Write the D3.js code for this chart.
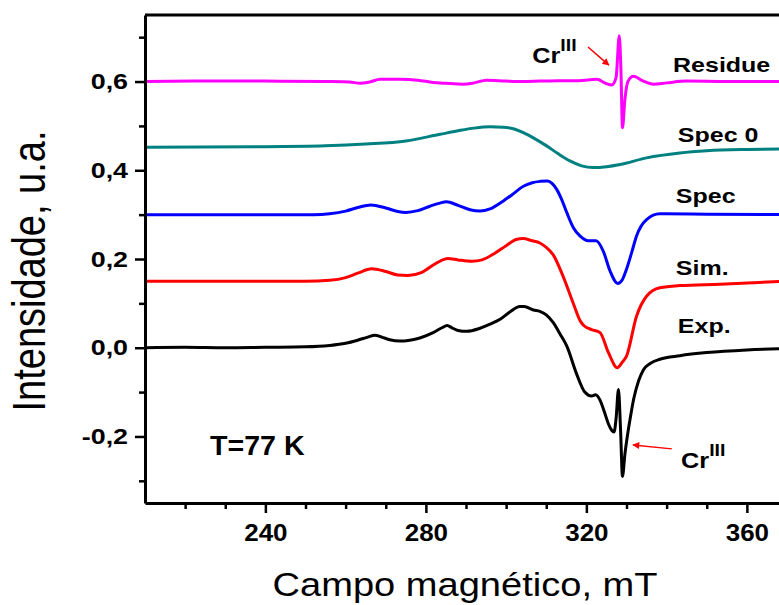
<!DOCTYPE html>
<html>
<head>
<meta charset="utf-8">
<script src="https://cdn.jsdelivr.net/npm/d3@7"></script>
<style>
  html, body { margin: 0; padding: 0; background: #ffffff; }
  svg { display: block; }
  text { font-family: "Liberation Sans", Arial, Helvetica, sans-serif; }
</style>
</head>
<body>
<svg id="chart" width="779" height="605"></svg>
<script>
// EPR spectra at 77 K: experiment, simulation, components and residue.
// Each profile is [field (mT), intensity relative to its baseline].
const expProfile = [
  [210, 0], [220, 0.001], [230, 0], [240, 0.001], [250, 0.002], [256, 0.005],
  [260, 0.010], [263, 0.017], [265.5, 0.024], [267.3, 0.028], [269, 0.024],
  [271, 0.018], [273.5, 0.015], [276, 0.017], [278.5, 0.022], [281.8, 0.034],
  [284, 0.045], [285.3, 0.050], [286.5, 0.045], [288, 0.039], [290.2, 0.037],
  [293.5, 0.044], [296, 0.053], [298.5, 0.064], [301, 0.081], [303.4, 0.093],
  [304.5, 0.093], [306.8, 0.085], [308.4, 0.082], [310, 0.074], [311.7, 0.057],
  [313.5, 0.030], [315.1, 0.004], [317.6, -0.060], [319.6, -0.100], [321.3, -0.109],
  [322.3, -0.106], [323.4, -0.118], [324.5, -0.145], [325.5, -0.172], [326.3, -0.186],
  [326.9, -0.190], [327.4, -0.160], [328.0, -0.094], [328.5, -0.180], [329.0, -0.290],
  [329.6, -0.240], [330.2, -0.200], [331.0, -0.155], [331.8, -0.115], [333, -0.075],
  [334.2, -0.050], [336, -0.035], [338.3, -0.026], [343.3, -0.018], [350, -0.011],
  [360, -0.005], [370, -0.002]
];
const simProfile = [
  [210, 0], [250, 0], [256, 0.002], [260, 0.008], [263, 0.018], [266.5, 0.028],
  [270, 0.022], [273, 0.014], [275.5, 0.013], [279, 0.020], [282.5, 0.040],
  [285.5, 0.051], [288, 0.048], [291.5, 0.045], [294, 0.048], [297, 0.062],
  [300, 0.080], [302.5, 0.094], [304.2, 0.096], [306.5, 0.091], [308.4, 0.086],
  [310, 0.076], [311.7, 0.060], [314.2, 0.011], [316.7, -0.049], [318.5, -0.090],
  [319.5, -0.101], [321.3, -0.109], [323.4, -0.116], [325.5, -0.161], [327.7, -0.195],
  [329.0, -0.182], [330, -0.169], [332.5, -0.079], [335, -0.034], [338.3, -0.015],
  [343.3, -0.010], [353.3, -0.007], [370, 0]
];
const specProfile = [
  [210, 0], [252, 0], [256, 0.002], [260, 0.008], [263, 0.016], [266.3, 0.022],
  [270, 0.015], [273, 0.007], [275, 0.005], [278, 0.009], [281, 0.019],
  [283.5, 0.026], [285.1, 0.029], [288, 0.021], [291, 0.011], [293.5, 0.008],
  [296, 0.013], [299.3, 0.031], [301.5, 0.045], [304.3, 0.064], [306.5, 0.072],
  [308.5, 0.075], [310.3, 0.076], [311.5, 0.070], [312.6, 0.057], [313.8, 0.035],
  [315.1, 0.005], [316.8, -0.030], [318.4, -0.048], [320.5, -0.059], [322.4, -0.059],
  [324.2, -0.082], [325.9, -0.127], [327.8, -0.155], [329.0, -0.146], [330, -0.123],
  [331.3, -0.085], [332.5, -0.048], [335, -0.011], [338.3, 0.002], [350, 0.001],
  [370, 0]
];
const spec0Profile = [
  [210, 0.002], [240, 0.003], [255, 0.005], [265, 0.009], [275, 0.016],
  [283.5, 0.031], [288, 0.039], [292, 0.045], [296, 0.048], [299.3, 0.047],
  [302, 0.043], [304.3, 0.035], [307, 0.022], [310.1, 0.005], [313, -0.013],
  [315.9, -0.029], [318.8, -0.040], [321.7, -0.044], [325, -0.042], [328.4, -0.037],
  [335, -0.022], [343.3, -0.011], [350, -0.006], [360, -0.003], [370, -0.002]
];
const residueProfile = [
  [210, 0], [225, 0.001], [240, 0.001], [255, 0], [261, -0.001], [263.6, -0.004],
  [266, -0.001], [268.6, 0.005], [273.5, 0.005], [278, 0.003], [281.8, -0.002],
  [285, -0.004], [289.3, -0.006], [292, -0.003], [295.1, 0.003], [300, 0.001],
  [304, 0], [308.4, 0.001], [313, 0.002], [318, 0.002], [322.6, 0.005],
  [324.8, -0.004], [326.3, -0.008], [327.4, 0.009], [328.2, 0.103], [328.6, 0.030],
  [329.0, -0.104], [329.6, -0.040], [330.4, 0.001], [331.7, 0.012], [334.2, 0.001],
  [336.7, -0.006], [340, -0.003], [345, 0.001], [355, 0], [370, 0]
];

const seriesNames   = ["Exp.", "Sim.", "Spec", "Spec 0", "Residue"];
const seriesOffsets = [0, 0.15, 0.30, 0.45, 0.60];
const seriesData    = [expProfile, simProfile, specProfile, spec0Profile, residueProfile];
const seriesColors  = ["#000000", "#ff0000", "#0000ff", "#008080", "#ff00ff"];
// label anchors in data units [field, intensity]
const labelAnchors  = [[342.8, 0.033], [342.3, 0.164], [342.3, 0.326], [342.8, 0.464], [341.6, 0.622]];

const fieldSpan     = [210, 370];
const intensitySpan = [-0.35, 0.75];
const fieldTicks    = [240, 280, 320, 360];
const fieldMinor    = [220, 230, 250, 260, 270, 290, 300, 310, 330, 340, 350];
const intensityTicks = [-0.2, 0.0, 0.2, 0.4, 0.6];
const intensityMinor = [-0.3, -0.1, 0.1, 0.3, 0.5, 0.7];

const svg = d3.select("#chart");
const W = 779, H = 605;
const plot = { left: 145, right: 787, top: 15, bottom: 503 };
const FONT = '"Liberation Sans", Arial, Helvetica, sans-serif';

svg.append("rect").attr("width", W).attr("height", H).attr("fill", "#ffffff");

const x = d3.scaleLinear().domain(fieldSpan).range([plot.left, plot.right]);
const y = d3.scaleLinear().domain(intensitySpan).range([plot.bottom, plot.top]);

const commaFmt = v => d3.format(".1f")(v).replace(".", ",").replace("−", "-");

// clip traces to the frame
svg.append("defs").append("clipPath").attr("id", "frame")
  .append("rect").attr("x", plot.left).attr("y", plot.top)
  .attr("width", plot.right - plot.left).attr("height", plot.bottom - plot.top);

// traces
const line = d3.line().curve(d3.curveMonotoneX);
const traces = svg.append("g").attr("clip-path", "url(#frame)");
seriesData.forEach((profile, i) => {
  line.x(d => x(d[0])).y(d => y(d[1] + seriesOffsets[i]));
  traces.append("path")
    .datum(profile)
    .attr("d", line)
    .attr("fill", "none")
    .attr("stroke", seriesColors[i])
    .attr("stroke-width", 3)
    .attr("stroke-linejoin", "round")
    .attr("stroke-linecap", "round");
});

// frame (top and right edges)
svg.append("path")
  .attr("d", `M${plot.left},${plot.top}H${plot.right}V${plot.bottom}`)
  .attr("fill", "none").attr("stroke", "#000").attr("stroke-width", 3);

// axes
function styleAxis(g) {
  g.select(".domain").attr("stroke-width", 3);
  g.selectAll(".tick line").attr("stroke-width", 2.5);
}
const xAxis = svg.append("g").attr("transform", `translate(0,${plot.bottom})`)
  .call(d3.axisBottom(x).tickValues(fieldTicks).tickSize(10).tickSizeOuter(0).tickPadding(12).tickFormat(d3.format("d")));
styleAxis(xAxis);
xAxis.selectAll(".tick text")
  .attr("font-family", FONT).attr("font-size", 23).attr("font-weight", "bold")
  .attr("fill", "#000").attr("y", 22).attr("transform", "scale(1.13,1)");
const xMinor = svg.append("g").attr("transform", `translate(0,${plot.bottom})`)
  .call(d3.axisBottom(x).tickValues(fieldMinor).tickSize(6).tickSizeOuter(0).tickFormat(""));
xMinor.select(".domain").remove();
xMinor.selectAll(".tick line").attr("stroke-width", 2.5);

const yAxis = svg.append("g").attr("transform", `translate(${plot.left},0)`)
  .call(d3.axisLeft(y).tickValues(intensityTicks).tickSize(10).tickSizeOuter(0).tickFormat(commaFmt));
styleAxis(yAxis);
yAxis.selectAll(".tick text")
  .attr("font-family", FONT).attr("font-size", 22).attr("font-weight", "bold")
  .attr("fill", "#000").attr("x", -17 / 1.22).attr("transform", "scale(1.22,1)");
const yMinor = svg.append("g").attr("transform", `translate(${plot.left},0)`)
  .call(d3.axisLeft(y).tickValues(intensityMinor).tickSize(6).tickSizeOuter(0).tickFormat(""));
yMinor.select(".domain").remove();
yMinor.selectAll(".tick line").attr("stroke-width", 2.5);

// text helper: horizontally stretched text placed at a pixel anchor
function addText(px, py, str, size, weight, sx, anchor, color) {
  return svg.append("text")
    .attr("transform", `translate(${px},${py}) scale(${sx},1)`)
    .attr("font-family", FONT).attr("font-size", size).attr("font-weight", weight)
    .attr("text-anchor", anchor || "start").attr("fill", color || "#000")
    .text(str);
}

// axis titles
addText((plot.left + 787) / 2 - 1, 596, "Campo magnético, mT", 34, "normal", 1.12, "middle");
svg.append("text")
  .attr("transform", `translate(45,271) scale(1.2,1) rotate(-90)`)
  .attr("font-family", FONT).attr("font-size", 38).attr("text-anchor", "middle")
  .attr("fill", "#000").text("Intensidade, u.a.");

// series labels
seriesNames.forEach((name, i) => {
  const a = labelAnchors[i];
  addText(x(a[0]), y(a[1]), name, 21, "bold", 1.19, "start");
});

// temperature
addText(x(226.2), y(-0.242), "T=77 K", 27, "bold", 1.06, "start");

// Cr(III) annotations
function crLabel(field, intensity) {
  const px = x(field), py = y(intensity);
  const t = svg.append("text")
    .attr("transform", `translate(${px},${py}) scale(1.15,1)`)
    .attr("font-family", FONT).attr("font-weight", "bold").attr("fill", "#000");
  t.append("tspan").attr("font-size", 22).text("Cr");
  t.append("tspan").attr("font-size", 17).attr("dy", -12).text("III");
}
crLabel(306.5, 0.642);
crLabel(343.6, -0.271);

const defs = svg.select("defs");
defs.append("marker").attr("id", "head").attr("viewBox", "0 0 10 10")
  .attr("refX", 9).attr("refY", 5).attr("markerWidth", 9).attr("markerHeight", 7)
  .attr("markerUnits", "userSpaceOnUse").attr("orient", "auto")
  .append("path").attr("d", "M0,0L10,5L0,10Z").attr("fill", "#ff0000");

const arrows = [
  [[320.4, 0.678], [325.6, 0.637]],
  [[341.3, -0.228], [331.6, -0.219]]
];
arrows.forEach(a => {
  svg.append("line")
    .attr("x1", x(a[0][0])).attr("y1", y(a[0][1]))
    .attr("x2", x(a[1][0])).attr("y2", y(a[1][1]))
    .attr("stroke", "#ff0000").attr("stroke-width", 1.5)
    .attr("marker-end", "url(#head)");
});
</script>
</body>
</html>
